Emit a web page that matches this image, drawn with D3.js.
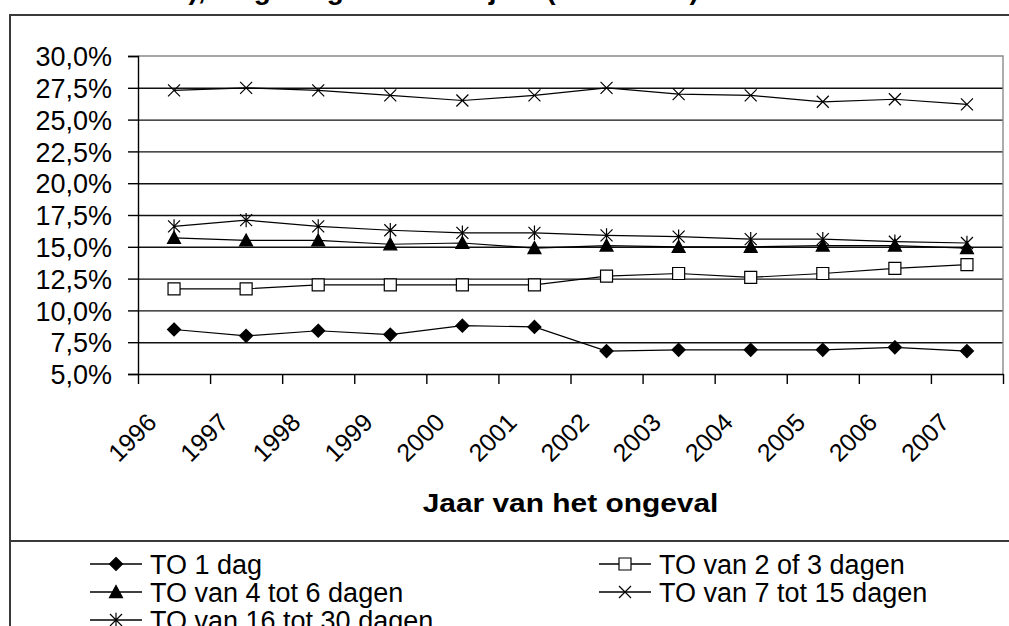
<!doctype html>
<html lang="nl">
<head>
<meta charset="utf-8">
<script src="https://d3js.org/d3.v7.min.js"></script>
<style>
  body { margin:0; background:#fff; }
  text { font-family: "Liberation Sans", Arial, sans-serif; fill:#000; }
  .frame { stroke:#3a3a3a; stroke-width:2; fill:none; }
  .grid line { stroke:#111; stroke-width:1.4; }
  .grid path { display:none; }
  .serie { fill:none; stroke:#000; stroke-width:1.2; }
</style>
</head>
<body>
<svg id="chart" width="1009" height="626"></svg>
<script>
  // jaren en aandelen (in %)
  let years = ["1996","1997","1998","1999","2000","2001","2002","2003","2004","2005","2006","2007"];
  let yTicks = [0.05, 0.075, 0.10, 0.125, 0.15, 0.175, 0.20, 0.225, 0.25, 0.275, 0.30];

  let to1dag    = [8.5, 8.0, 8.4, 8.1, 8.8, 8.7, 6.8, 6.9, 6.9, 6.9, 7.1, 6.8];
  let to2tot3   = [11.7, 11.7, 12.0, 12.0, 12.0, 12.0, 12.7, 12.9, 12.6, 12.9, 13.3, 13.6];
  let to4tot6   = [15.7, 15.5, 15.5, 15.2, 15.3, 14.9, 15.1, 15.0, 15.0, 15.1, 15.1, 14.9];
  let to7tot15  = [27.3, 27.5, 27.3, 26.9, 26.5, 26.9, 27.5, 27.0, 26.9, 26.4, 26.6, 26.2];
  let to16tot30 = [16.6, 17.1, 16.6, 16.3, 16.1, 16.1, 15.9, 15.8, 15.6, 15.6, 15.4, 15.3];

  let names = ["TO 1 dag", "TO van 2 of 3 dagen", "TO van 4 tot 6 dagen",
               "TO van 7 tot 15 dagen", "TO van 16 tot 30 dagen"];

  let svg = d3.select("#chart");
  let plot = {left:138, right:1003, top:56, bottom:374};

  // eigen markers
  let diamond = {draw(c, s){ c.moveTo(0,-s); c.lineTo(s,0); c.lineTo(0,s); c.lineTo(-s,0); c.closePath(); }};
  let square  = {draw(c, s){ c.rect(-s,-s,2*s,2*s); }};
  let triangle= {draw(c, s){ c.moveTo(0,-s); c.lineTo(s,s*0.85); c.lineTo(-s,s*0.85); c.closePath(); }};
  let cross   = {draw(c, s){ c.moveTo(-s,-s); c.lineTo(s,s); c.moveTo(s,-s); c.lineTo(-s,s); }};
  let star    = {draw(c, s){ c.moveTo(-s,-s); c.lineTo(s,s); c.moveTo(s,-s); c.lineTo(-s,s); c.moveTo(0,-s*1.2); c.lineTo(0,s*1.2); }};

  let series = [
    {name:names[0], values:to1dag,    type:diamond,  size:6.5, fill:"#000", stroke:"#000"},
    {name:names[1], values:to2tot3,   type:square,   size:6,   fill:"#fff", stroke:"#000"},
    {name:names[2], values:to4tot6,   type:triangle, size:6.5, fill:"#000", stroke:"#000"},
    {name:names[3], values:to7tot15,  type:cross,    size:6,   fill:"none", stroke:"#000"},
    {name:names[4], values:to16tot30, type:star,     size:6,   fill:"none", stroke:"#000"}
  ];

  // titel, valt boven de rand weg: alleen de onderkant blijft zichtbaar
  svg.append("text")
     .attr("x", 150).attr("y", -1)
     .attr("font-size", 28).attr("font-weight", "bold")
     .text("TO), volgens geslacht en jaar (1996-2007)");

  // kader
  svg.append("path").attr("class","frame")
     .attr("d", "M10,626 L10,15 L1012,15");
  svg.append("line").attr("class","frame")
     .attr("x1",10).attr("x2",1012).attr("y1",541).attr("y2",541);

  let x = d3.scaleBand().domain(years).range([plot.left, plot.right]);
  let xEdge = d3.scaleLinear().domain([0, years.length]).range([plot.left, plot.right]);
  let y = d3.scaleLinear().domain([0.05, 0.30]).range([plot.bottom, plot.top]);

  let fmt = d3.formatLocale({decimal:",", thousands:".", grouping:[3], currency:["","€"]}).format(".1%");

  // rasterlijnen
  svg.append("g").attr("class","grid")
     .attr("transform", `translate(${plot.left},0)`)
     .call(d3.axisLeft(y).tickValues(yTicks.slice(1, -1)).tickSize(-(plot.right-plot.left)).tickFormat(""));

  // rand van het plotvlak
  svg.append("path")
     .attr("d", `M${plot.left},${plot.top} L${plot.right},${plot.top} L${plot.right},${plot.bottom}`)
     .attr("fill","none").attr("stroke","#8a8a8a").attr("stroke-width",1.4);

  // y-as
  let yAxis = svg.append("g")
     .attr("transform", `translate(${plot.left},0)`)
     .call(d3.axisLeft(y).tickValues(yTicks).tickSize(10).tickPadding(16).tickFormat(fmt));
  yAxis.selectAll("path, line").attr("stroke","#000").attr("stroke-width",1.4);
  yAxis.selectAll("text").attr("font-size",27).attr("font-family",null).attr("dy","0.36em");

  // x-as
  let xAxis = svg.append("g")
     .attr("transform", `translate(0,${plot.bottom})`)
     .call(d3.axisBottom(xEdge).tickValues(d3.range(years.length + 1)).tickSize(10).tickSizeOuter(0).tickFormat(""));
  xAxis.selectAll("path, line").attr("stroke","#000").attr("stroke-width",1.4);

  svg.append("g").selectAll("text").data(years).join("text")
     .attr("transform", d => `translate(${x(d) + x.bandwidth()/2 - 16},424) rotate(-45)`)
     .attr("text-anchor","end")
     .attr("font-size",25)
     .text(d => d);

  svg.append("text")
     .attr("transform", `translate(${(plot.left + plot.right)/2},512) scale(1.15,1)`)
     .attr("text-anchor","middle")
     .attr("font-size",26).attr("font-weight","bold")
     .text("Jaar van het ongeval");

  // lijnen en markers
  let line = d3.line()
     .x((d, i) => x(years[i]) + x.bandwidth()/2)
     .y(d => y(d/100));

  let g = svg.append("g");
  series.forEach(s => {
    g.append("path").attr("class","serie").attr("d", line(s.values));
  });
  series.forEach(s => {
    g.append("g").selectAll("path").data(s.values).join("path")
     .attr("transform", (d, i) => `translate(${x(years[i]) + x.bandwidth()/2},${y(d/100)})`)
     .attr("d", d3.symbol().type(s.type).size(s.size))
     .attr("fill", s.fill).attr("stroke", s.stroke).attr("stroke-width", 1.2);
  });

  // legenda
  let legendX = [90, 599];
  let legendY = [564, 592, 620];
  let leg = svg.append("g").selectAll("g").data(series).join("g")
     .attr("transform", (s, i) => `translate(${legendX[i % 2]},${legendY[Math.floor(i / 2)]})`);
  leg.append("line").attr("x1",0).attr("x2",52).attr("y1",0).attr("y2",0)
     .attr("stroke","#000").attr("stroke-width",1.4);
  leg.append("path")
     .attr("transform","translate(26,0)")
     .attr("d", s => d3.symbol().type(s.type).size(s.size)())
     .attr("fill", s => s.fill).attr("stroke", s => s.stroke).attr("stroke-width",1.2);
  leg.append("text")
     .attr("x", 60).attr("y", 0).attr("dy","0.36em")
     .attr("font-size",27)
     .text(s => s.name);
</script>
</body>
</html>
